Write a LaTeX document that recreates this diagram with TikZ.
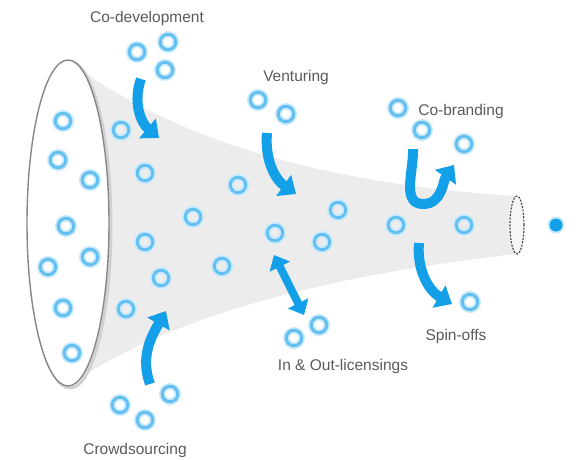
\documentclass[tikz,border=0pt]{standalone}
\usepackage{fontspec}
\setmainfont{Liberation Sans}
\usepackage{tikz}
\usetikzlibrary{shapes.geometric, arrows.meta}
\definecolor{flowblue}{RGB}{20,160,232}
\definecolor{ringblue}{RGB}{100,192,240}
\definecolor{ringglow}{RGB}{200,234,252}
\definecolor{funnelgray}{RGB}{236,236,236}
\definecolor{rimgray}{RGB}{135,135,135}
\definecolor{labelgray}{RGB}{90,90,90}
\tikzstyle{swing} = [line width=10pt, draw=flowblue, -{Triangle[length=15pt,width=25pt]}]
\tikzstyle{tag} = [text=labelgray, font=\fontsize{15.5}{18}\selectfont, anchor=base, inner sep=0pt]

\begin{document}
\begin{tikzpicture}[x=1pt, y=-1pt,
    bubble/.style={circle, draw=ringblue, line width=3pt, minimum size=15.5pt, inner sep=0pt,
        preaction={draw=ringglow, line width=6.5pt}},
    mouth/.style={ellipse, draw=rimgray, line width=1.4pt, fill=white, minimum width=82pt, minimum height=326pt, inner sep=0pt},
    throat/.style={ellipse, draw=black!75, line width=1.1pt, dash pattern=on 2pt off 1.4pt, fill=white!55!funnelgray, minimum width=14pt, minimum height=58pt, inner sep=0pt}]
    \useasboundingbox (0,0) rectangle (576,459);

    \coordinate (wideN) at (68,60);
    \coordinate (wideS) at (68,386);
    \coordinate (narrowN) at (517,196);
    \coordinate (narrowS) at (517,254);
    \fill[funnelgray] (wideN) .. controls (170,140) and (330,185) .. (narrowN)
        -- (narrowS) .. controls (330,275) and (170,315) .. (wideS) -- cycle;

    \draw[black!18, line width=3pt] (70,225) ellipse (41pt and 163pt);
    \node[mouth] (wide) at (68,223) {};
    \node[throat] (narrow) at (517,225) {};
    \node[circle, fill=flowblue, minimum size=13pt, inner sep=0pt, preaction={draw=ringglow, line width=4pt}] (out) at (556,225) {};

    \foreach \x/\y [count=\i] in {63/121, 58/160, 90/180, 66/226, 48/267, 90/257, 63/308, 72/353,
        137/52, 168/42, 165/70,
        121/130, 145/173, 238/185, 193/217, 145/242, 161/278, 126/309, 222/266,
        275/233, 338/210, 322/242, 396/225, 464/225,
        258/100, 286/114,
        319/325, 294/338,
        120/405, 145/420, 170/394,
        398/108, 422/130, 464/144,
        470/302}
        \node[bubble] (b\i) at (\x,\y) {};

    \coordinate (codevA) at (141,79);
    \coordinate (codevB) at (159,138);
    \coordinate (ventA) at (267,133);
    \coordinate (ventB) at (296,194);
    \coordinate (crowdA) at (150,384);
    \coordinate (crowdB) at (166,311);
    \coordinate (licA) at (274,255);
    \coordinate (licB) at (304,315);
    \coordinate (brandA) at (413,149);
    \coordinate (brandM) at (423,204);
    \coordinate (brandB) at (454,165);
    \coordinate (spinA) at (419,243);
    \coordinate (spinB) at (452,304);

    \draw[swing] (codevA) to[out=250, in=140] (codevB);
    \draw[swing] (ventA) to[out=265, in=145] (ventB);
    \draw[swing] (crowdA) to[out=110, in=240] (crowdB);
    \draw[line width=8pt, draw=flowblue, {Triangle[length=13pt,width=22pt]}-{Triangle[length=13pt,width=22pt]}] (licA) -- (licB);
    \draw[swing] (brandA) to[out=272, in=180] (brandM) to[out=0, in=235] (brandB);
    \draw[swing] (spinA) to[out=265, in=150] (spinB);

    \node[tag] (codev) at (147,22) {Co-development};
    \node[tag] (vent) at (296,81) {Venturing};
    \node[tag] (brand) at (461,115) {Co-branding};
    \node[tag] (lic) at (343,370) {In \& Out-licensings};
    \node[tag] (spin) at (456,340) {Spin-offs};
    \node[tag] (crowd) at (135,454) {Crowdsourcing};
\end{tikzpicture}
\end{document}
